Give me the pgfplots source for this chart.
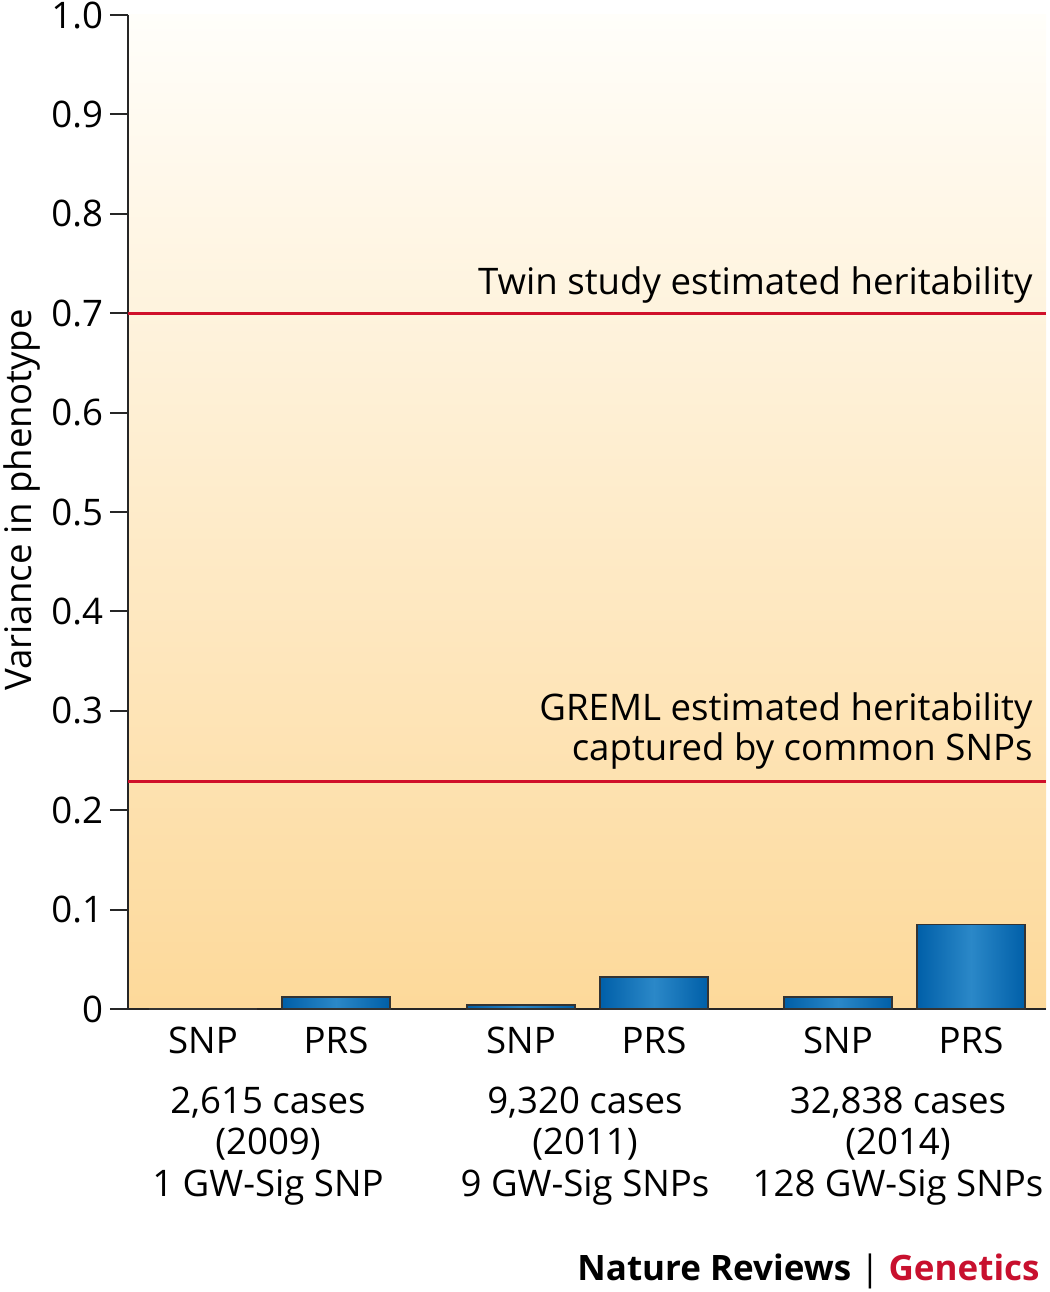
\documentclass[border=0pt]{standalone}
\usepackage{fontspec}
\setmainfont{Open Sans}
\usepackage{pgfplots}
\pgfplotsset{compat=1.18}

\definecolor{bgtop}{HTML}{FFFEFA}
\definecolor{bgmid}{HTML}{FEEBC6}
\definecolor{bgbot}{HTML}{FDD99A}
\definecolor{bardark}{HTML}{005FA8}
\definecolor{barlight}{HTML}{2B88C8}
\definecolor{heritred}{HTML}{D0102A}
\definecolor{natred}{HTML}{C8102E}

% the path's box is mapped onto 25bp..75bp of the shading
\pgfdeclarehorizontalshading{barshade}{100bp}{color(0bp)=(bardark); color(25bp)=(bardark); color(50bp)=(barlight); color(75bp)=(bardark); color(100bp)=(bardark)}

\newcommand{\lbl}{\fontsize{18.3}{20}\selectfont}

\begin{document}
\begin{tikzpicture}
% 1 px of the reference = 0.5pt
\useasboundingbox (-64pt,-141.5pt) rectangle (461pt,504.5pt);
\begin{axis}[
    at={(0,0)}, anchor=south west,
    scale only axis,
    width=459pt, height=497pt,
    xmin=128, xmax=1046,
    ymin=0, ymax=1,
    clip=false,
    axis x line*=bottom,
    axis y line*=left,
    axis line style={line width=1pt, black!85},
    axis background/.style={top color=bgtop, middle color=bgmid, bottom color=bgbot},
    ybar, bar shift=0pt, bar width=54pt,
    xtick={203,336,521,654,838,971},
    xticklabels={SNP,PRS,SNP,PRS,SNP,PRS},
    xtick style={draw=none},
    xticklabel style={font=\lbl, yshift=3.5pt},
    ytick={0,0.1,0.2,0.3,0.4,0.5,0.6,0.7,0.8,0.9,1},
    yticklabels={0,0.1,0.2,0.3,0.4,0.5,0.6,0.7,0.8,0.9,1.0},
    yticklabel style={font=\lbl},
    ytick style={line width=1pt, black!85},
    tick align=outside,
    major tick length=9pt,
    bluebar/.style={draw=black!80, line width=0.8pt, shade, shading=barshade, forget plot},
  ]
  % variance explained: one bar per plot so each gets its own shading
  \addplot[bluebar] coordinates {(203,0)};      % SNP 2009
  \addplot[bluebar] coordinates {(336,0.012)};  % PRS 2009
  \addplot[bluebar] coordinates {(521,0.004)};  % SNP 2011
  \addplot[bluebar] coordinates {(654,0.032)};  % PRS 2011
  \addplot[bluebar] coordinates {(838,0.012)};  % SNP 2014
  \addplot[bluebar] coordinates {(971,0.085)};  % PRS 2014

  % heritability estimates
  \addplot[sharp plot, heritred, line width=1.5pt, forget plot] coordinates {(128,0.700) (1046,0.700)};
  \addplot[sharp plot, heritred, line width=1.5pt, forget plot] coordinates {(128,0.229) (1046,0.229)};

  \node[anchor=base east, font=\lbl, inner sep=0pt] at (axis cs:1033,0.719) {Twin study estimated heritability};
  \node[anchor=base east, font=\lbl, inner sep=0pt] at (axis cs:1033,0.290) {GREML estimated heritability};
  \node[anchor=base east, font=\lbl, inner sep=0pt] at (axis cs:1033,0.250) {captured by common SNPs};

  % group labels
  \foreach \cx/\a/\b/\c in {268/{2,615 cases}/{(2009)}/{1 GW-Sig SNP},
                            585/{9,320 cases}/{(2011)}/{9 GW-Sig SNPs},
                            898/{32,838 cases}/{(2014)}/{128 GW-Sig SNPs}} {
    \edef\temp{\noexpand\node[anchor=base, font=\noexpand\lbl, inner sep=0pt, yshift=-52pt] at (axis cs:\cx,0) {\a};
      \noexpand\node[anchor=base, font=\noexpand\lbl, inner sep=0pt, yshift=-72.5pt] at (axis cs:\cx,0) {\b};
      \noexpand\node[anchor=base, font=\noexpand\lbl, inner sep=0pt, yshift=-93.5pt] at (axis cs:\cx,0) {\c};}
    \temp
  }

  \node[rotate=90, anchor=center, font=\lbl, inner sep=0pt] at ([xshift=-53pt]axis cs:128,0.512) {Variance in phenotype};

  \node[anchor=base east, font=\fontsize{17.5}{20}\selectfont, inner sep=0pt] at ([yshift=-135.5pt]axis cs:1040,0)
    {\textbf{Nature Reviews} | \textbf{\textcolor{natred}{Genetics}}};
\end{axis}
\end{tikzpicture}
\end{document}
